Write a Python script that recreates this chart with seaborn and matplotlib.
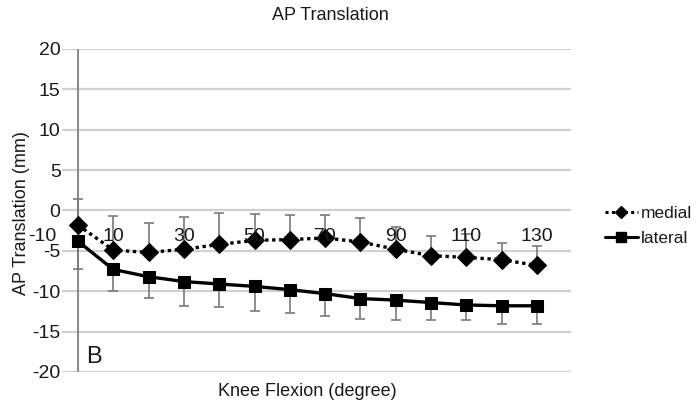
import matplotlib
matplotlib.use("Agg")
import matplotlib.pyplot as plt
import seaborn as sns
import pandas as pd
from matplotlib.lines import Line2D

# Knee flexion angles (degrees)
flexion = [0, 10, 20, 30, 40, 50, 60, 70, 80, 90, 100, 110, 120, 130]

# Mean AP translation (mm) and standard deviations
medial = [-1.8, -4.9, -5.2, -4.8, -4.2, -3.7, -3.6, -3.4, -3.9, -4.8, -5.6, -5.8, -6.1, -6.8]
medial_sd = [3.2, 4.2, 3.6, 4.0, 3.9, 3.3, 3.1, 2.8, 3.0, 2.8, 2.4, 2.9, 2.1, 2.4]
lateral = [-3.8, -7.3, -8.2, -8.8, -9.1, -9.4, -9.8, -10.3, -10.9, -11.1, -11.4, -11.7, -11.8, -11.8]
lateral_sd = [3.4, 2.7, 2.6, 3.0, 2.9, 3.0, 2.9, 2.8, 2.5, 2.5, 2.2, 1.9, 2.2, 2.2]

x_tick_labels = [-10, 10, 30, 50, 70, 90, 110, 130]
y_ticks = [20, 15, 10, 5, 0, -5, -10, -15, -20]

df = pd.DataFrame({"flexion": flexion, "medial": medial, "lateral": lateral})

sns.set_style("white")
plt.rcParams["font.family"] = ["Liberation Sans", "DejaVu Sans"]
TXT = "#1a1a1a"

fig = plt.figure(figsize=(6.96, 4.01), dpi=100)
ax = fig.add_axes([62 / 696, 1 - 372 / 401, (571 - 62) / 696, (372 - 49) / 401])

ax.set_xlim(-4.5, 139.6)
ax.set_ylim(-20, 20)
ax.set_yticks(y_ticks)
ax.set_yticklabels([str(v) for v in y_ticks])
ax.set_xticks([])
ax.grid(axis="y", color="#d0d0d0", lw=1.6, zorder=0)
ax.set_axisbelow(True)
for s in ax.spines.values():
    s.set_visible(False)
ax.tick_params(axis="y", length=0, pad=1, labelsize=14, labelcolor=TXT)

# vertical value axis crossing at 0 degrees
ax.axvline(0, color="#8c8c8c", lw=1.5, zorder=1)

# one-sided error bars: medial upwards, lateral downwards
ax.errorbar(flexion, medial, yerr=[[0] * len(medial_sd), medial_sd], fmt="none",
            ecolor="#7a7a7a", elinewidth=1.2, capsize=3.5, capthick=1.2, zorder=2)
ax.errorbar(flexion, lateral, yerr=[lateral_sd, [0] * len(lateral_sd)], fmt="none",
            ecolor="#7a7a7a", elinewidth=1.2, capsize=3.5, capthick=1.2, zorder=2)

sns.lineplot(data=df, x="flexion", y="medial", ax=ax, color="black", lw=2.4,
             linestyle=(0, (1, 1.1)), marker="D", markersize=9,
             markeredgecolor="black", zorder=3)
sns.lineplot(data=df, x="flexion", y="lateral", ax=ax, color="black", lw=2.4,
             linestyle="-", marker="s", markersize=9,
             markeredgecolor="black", zorder=3)
ax.set_xlabel("")
ax.set_ylabel("")

# category labels sitting just under the zero line
for v in x_tick_labels:
    ax.text(v, -3.2, str(v), ha="center", va="center", fontsize=14,
            color=TXT, clip_on=False, zorder=4)

ax.text(2.4, -18.9, "B", fontsize=17, color=TXT, va="baseline", ha="left")

fig.text(330 / 696, 1 - 15 / 401, "AP Translation", ha="center", va="center",
         fontsize=13, color=TXT)
fig.text(307 / 696, 1 - 391 / 401, "Knee Flexion (degree)", ha="center", va="center",
         fontsize=13, color=TXT)
fig.text(22 / 696, 1 - 213 / 401, "AP Translation (mm)", ha="center", va="center",
         rotation=90, fontsize=13, color=TXT)

handles = [
    Line2D([], [], color="black", lw=2.2, linestyle=(0, (1, 1.1)), marker="D", markersize=6.5),
    Line2D([], [], color="black", lw=2.2, linestyle="-", marker="s", markersize=6.5),
]
fig.legend(handles, ["medial", "lateral"], loc="center left",
           bbox_to_anchor=(605 / 696, 1 - 226 / 401), frameon=False,
           borderpad=0, borderaxespad=0,
           fontsize=12.5, handlelength=1.9, handletextpad=0.15, labelspacing=0.6,
           labelcolor=TXT)

fig.savefig("out.png", dpi=100)
